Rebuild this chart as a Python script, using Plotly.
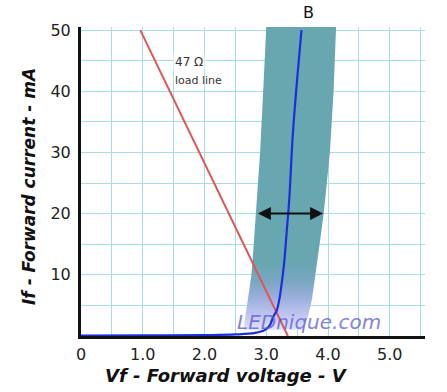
import plotly.graph_objects as go

# LED forward characteristic (Vf in V, If in mA)
led_v = [0.0, 1.0, 2.0, 2.5, 2.82, 2.98, 3.06, 3.11, 3.17, 3.21, 3.25, 3.29, 3.33, 3.37, 3.43, 3.50, 3.57]
led_i = [0.05, 0.1, 0.15, 0.25, 0.5, 1.0, 1.8, 3.1, 4.2, 5.9, 8.6, 12, 17, 22, 33, 42, 50]

# 47 ohm load line
load_v = [0.96, 3.35]
load_i = [50, 0]

# spread band of forward voltage
band_i = [1, 3, 6, 10, 14, 20, 30, 40, 50.5]
band_left = [2.63, 2.66, 2.71, 2.76, 2.79, 2.83, 2.90, 2.95, 3.00]
band_right = [3.60, 3.67, 3.74, 3.79, 3.85, 3.93, 4.03, 4.09, 4.13]

x_ticks = [0, 1, 2, 3, 4, 5]
x_labels = ["0", "1.0", "2.0", "3.0", "4.0", "5.0"]
y_ticks = [10, 20, 30, 40, 50]
y_labels = ["10", "20", "30", "40", "50"]

grid = "#aadde1"
fig = go.Figure()

fig.add_trace(go.Scatter(
    x=band_left + band_right[::-1],
    y=band_i + band_i[::-1],
    fill="toself", mode="lines", line=dict(width=0),
    fillgradient=dict(type="vertical", start=0, stop=50.5,
                      colorscale=[[0, "#f0f1fc"], [0.02, "#e2e5f9"], [0.06, "#c4c9f1"],
                                  [0.12, "#9db0de"], [0.18, "#78a6c0"], [0.24, "#68a6b0"],
                                  [1, "#68a6b0"]]),
    hoverinfo="skip", showlegend=False))

fig.add_trace(go.Scatter(x=load_v, y=load_i, mode="lines",
                         line=dict(color="#e05555", width=2), showlegend=False))
fig.add_trace(go.Scatter(x=led_v, y=led_i, mode="lines", line_shape="spline",
                         line=dict(color="#1a2ee0", width=2.2), showlegend=False))

# double arrow
fig.add_annotation(x=3.92, y=20, ax=2.84, ay=20, xref="x", yref="y", axref="x", ayref="y",
                   text="", showarrow=True, arrowhead=2, startarrowhead=2, arrowside="end+start",
                   arrowsize=1.3, startarrowsize=1.3, arrowwidth=2, arrowcolor="#111")

fig.add_annotation(x=1.49, y=44.7, xref="x", yref="y", text="47 Ω", showarrow=False,
                   xanchor="left", font=dict(family="DejaVu Sans", size=12, color="#333"),
                   bgcolor="white")
fig.add_annotation(x=1.49, y=41.8, xref="x", yref="y", text="load line", showarrow=False,
                   xanchor="left", font=dict(family="DejaVu Sans", size=11, color="#333"))

fig.add_annotation(x=3.68, y=1.0, xref="x", yref="paper", yanchor="bottom", yshift=3,
                   text="B", showarrow=False,
                   font=dict(family="DejaVu Sans", size=16, color="#111"))

fig.add_annotation(x=3.69, y=2.3, xref="x", yref="y", text="<i>LEDnique.com</i>",
                   showarrow=False, opacity=0.75,
                   font=dict(family="DejaVu Sans", size=20, color="#5a5ad0"))

fig.add_annotation(x=226, y=375, xref="paper", yref="paper", text="<b><i>Vf - Forward voltage - V</i></b>",
                   showarrow=False, xanchor="center", yanchor="middle",
                   font=dict(family="DejaVu Sans", size=18, color="#111"))
fig.add_annotation(x=29, y=187, xref="paper", yref="paper", text="<b><i>If - Forward current - mA</i></b>",
                   showarrow=False, textangle=-90, xanchor="center", yanchor="middle",
                   font=dict(family="DejaVu Sans", size=17, color="#111"))

# convert pixel positions for title annotations to paper coords
L, R, T, B = 81, 22, 27, 56
W, H = 447, 392
pw, ph = W - L - R, H - T - B
for a in fig.layout.annotations:
    if a.xref == "paper" and a.yref == "paper":
        a.x = (a.x - L) / pw
        a.y = (H - B - a.y) / ph

fig.update_xaxes(range=[0, 5.57], tickvals=x_ticks, ticktext=x_labels,
                 showgrid=True, gridcolor=grid, gridwidth=1,
                 minor=dict(dtick=0.5, tick0=0, showgrid=True, gridcolor=grid, gridwidth=1),
                 showline=True, linecolor="#111", linewidth=3, zeroline=False,
                 tickfont=dict(family="DejaVu Sans", size=16, color="#222"),
                 ticklabelstandoff=2, fixedrange=True)
fig.update_yaxes(range=[0, 50.5], tickvals=y_ticks, ticktext=y_labels,
                 showgrid=True, gridcolor=grid, gridwidth=1,
                 minor=dict(dtick=5, tick0=0, showgrid=True, gridcolor=grid, gridwidth=1),
                 showline=True, linecolor="#111", linewidth=3, zeroline=False,
                 tickfont=dict(family="DejaVu Sans", size=16, color="#222"),
                 ticklabelstandoff=4, fixedrange=True)

fig.update_layout(width=W, height=H, margin=dict(l=L, r=R, t=T, b=B),
                  paper_bgcolor="white", plot_bgcolor="white", showlegend=False)

fig.write_html("out.html", config={"displayModeBar": False},
               post_script="document.body.style.margin='0';")
